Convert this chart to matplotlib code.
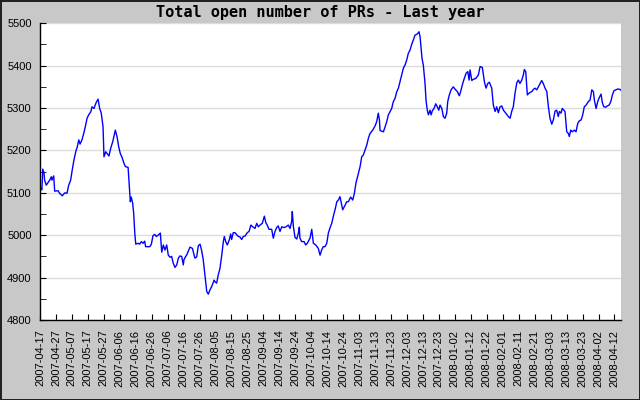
import matplotlib
matplotlib.use("Agg")
import matplotlib.pyplot as plt
from matplotlib.ticker import MultipleLocator
import numpy as np
import pandas as pd

# days after 2007-04-17 and number of open PRs
start = "2007-04-17"
days = [0.0, 1.2, 1.7, 2.5, 2.9, 3.9, 6.1, 7.1, 7.5, 8.6, 9.2, 11.3, 12.3, 14.0, 15.5,
        16.9, 18.0, 19.2, 20.2, 21.3, 22.4, 23.4, 24.3, 25.1, 26.3, 27.4, 28.4, 29.5,
        30.5, 31.8, 32.6, 33.8, 35.3, 36.4, 37.4, 38.4, 39.5, 40.1, 41.2, 42.2, 43.2,
        44.3, 45.6, 47.2, 48.3, 49.3, 50.3, 51.4, 52.5, 53.5, 55.2, 56.0, 56.6, 57.2,
        58.1, 58.7, 59.4, 60.0, 61.4, 62.5, 63.5, 64.6, 65.6, 66.2, 68.8, 69.8, 70.8,
        71.9, 72.9, 74.0, 75.4, 76.3, 77.3, 78.3, 79.4, 80.4, 81.5, 82.5, 83.5, 84.6,
        85.7, 86.7, 87.7, 88.8, 89.8, 90.2, 91.3, 91.9, 94.0, 95.5, 97.1, 98.2, 99.2,
        100.3, 101.3, 102.3, 103.0, 103.8, 104.5, 105.5, 106.5, 107.6, 109.1, 109.7,
        110.7, 111.7, 112.8, 113.9, 114.9, 115.5, 116.4, 117.4, 118.6, 119.5, 120.1,
        121.1, 122.2, 123.3, 124.3, 125.3, 126.4, 127.4, 128.5, 129.9, 131.0, 132.2,
        133.3, 134.7, 135.8, 136.8, 137.9, 139.3, 140.6, 141.5, 142.5, 143.5, 145.2,
        146.2, 147.3, 148.3, 149.3, 150.4, 151.5, 152.9, 154.2, 155.6, 156.7, 157.7,
        158.1, 158.8, 159.8, 160.9, 161.9, 162.5, 162.9, 164.0, 165.5, 166.5, 167.5,
        169.2, 170.3, 171.3, 172.8, 174.4, 175.5, 176.5, 177.5, 178.6, 179.7, 180.7,
        181.8, 182.8, 184.3, 184.9, 186.0, 187.0, 188.0, 189.1, 189.7, 191.2, 192.2,
        193.2, 194.7, 196.0, 197.0, 198.0, 199.5, 200.6, 201.6, 202.6, 203.7, 204.8,
        205.8, 206.8, 208.5, 210.0, 211.0, 212.0, 212.7, 213.1, 215.2, 216.2, 217.3,
        218.3, 219.4, 220.4, 221.4, 222.5, 223.6, 224.6, 225.6, 226.7, 227.7, 228.8,
        229.8, 230.8, 231.9, 233.0, 234.0, 235.0, 236.5, 237.5, 238.2, 238.8, 239.4,
        240.2, 241.3, 241.9, 242.7, 243.4, 244.4, 245.1, 245.9, 246.9, 248.0, 249.0,
        249.9, 250.7, 251.8, 252.8, 253.8, 254.9, 255.5, 256.5, 257.6, 259.0, 260.5,
        261.5, 262.8, 263.9, 264.9, 265.9, 267.0, 268.1, 268.9, 269.5, 270.6, 271.6,
        273.1, 274.7, 275.8, 277.2, 278.5, 279.5, 280.6, 281.6, 283.1, 284.1, 285.2,
        286.2, 287.2, 288.3, 289.4, 290.4, 291.9, 293.5, 294.6, 295.6, 296.6, 297.7,
        298.8, 299.8, 300.8, 301.9, 302.9, 303.5, 304.4, 305.4, 306.7, 308.2, 309.2,
        310.2, 311.3, 312.3, 313.4, 314.4, 315.4, 316.5, 317.6, 318.6, 319.6, 320.7,
        321.7, 322.8, 323.8, 324.8, 325.5, 326.5, 327.3, 329.0, 330.1, 331.1, 331.7,
        332.6, 333.6, 334.9, 335.9, 337.0, 338.0, 339.1, 340.1, 341.1, 342.2, 343.6,
        344.7, 345.8, 346.8, 347.4, 348.5, 349.5, 350.5, 351.6, 352.4, 353.3, 354.5,
        355.5, 356.6, 357.7, 358.7, 359.7, 361.4, 362.4, 363.5, 364.1]
open_prs = [5113, 5107, 5156, 5147, 5130, 5118, 5130, 5138, 5130, 5140, 5104, 5105, 5099,
            5093, 5100, 5099, 5118, 5130, 5154, 5178, 5197, 5209, 5225, 5215, 5225, 5240,
            5256, 5276, 5284, 5291, 5303, 5299, 5314, 5321, 5299, 5288, 5256, 5185, 5197,
            5192, 5187, 5205, 5221, 5248, 5232, 5209, 5193, 5184, 5171, 5162, 5160, 5115,
            5079, 5090, 5075, 5052, 5005, 4979, 4981, 4979, 4985, 4981, 4986, 4973, 4973,
            4979, 4999, 5002, 4997, 5000, 5005, 4960, 4977, 4965, 4977, 4953, 4948, 4950,
            4934, 4924, 4930, 4946, 4951, 4950, 4930, 4942, 4950, 4953, 4972, 4969, 4946,
            4949, 4975, 4979, 4964, 4942, 4918, 4890, 4867, 4861, 4871, 4879, 4894, 4890,
            4887, 4906, 4922, 4953, 4985, 4997, 4985, 4977, 4989, 5003, 4990, 5006, 5006,
            5001, 4997, 4996, 4990, 4997, 4998, 5006, 5009, 5024, 5020, 5016, 5028, 5020,
            5024, 5028, 5045, 5030, 5023, 5014, 5014, 4993, 5009, 5018, 5022, 5009, 5020,
            5018, 5020, 5024, 5016, 5032, 5056, 5020, 4995, 4991, 5005, 5019, 4993, 4985,
            4985, 4977, 4981, 4993, 5014, 4981, 4977, 4969, 4953, 4965, 4973, 4973, 4981,
            5005, 5018, 5028, 5052, 5060, 5079, 5083, 5091, 5071, 5060, 5071, 5079, 5079,
            5090, 5083, 5099, 5123, 5146, 5162, 5185, 5189, 5201, 5213, 5229, 5240, 5248,
            5258, 5268, 5288, 5272, 5247, 5244, 5255, 5268, 5284, 5292, 5299, 5315, 5323,
            5339, 5347, 5362, 5378, 5394, 5402, 5413, 5429, 5437, 5451, 5461, 5472, 5475,
            5480, 5468, 5441, 5417, 5402, 5358, 5319, 5295, 5284, 5295, 5284, 5294, 5299,
            5310, 5303, 5295, 5307, 5299, 5280, 5276, 5288, 5315, 5331, 5343, 5350, 5343,
            5339, 5329, 5343, 5358, 5370, 5382, 5386, 5366, 5390, 5365, 5368, 5370, 5378,
            5398, 5396, 5362, 5347, 5358, 5361, 5347, 5307, 5292, 5303, 5289, 5303, 5305,
            5295, 5288, 5280, 5276, 5292, 5303, 5335, 5360, 5366, 5358, 5366, 5378, 5391,
            5386, 5331, 5336, 5339, 5344, 5347, 5343, 5350, 5358, 5365, 5358, 5347, 5339,
            5303, 5276, 5262, 5272, 5293, 5295, 5280, 5292, 5288, 5299, 5292, 5244, 5240,
            5233, 5248, 5244, 5248, 5244, 5264, 5270, 5272, 5284, 5303, 5307, 5315, 5319,
            5343, 5339, 5319, 5299, 5315, 5325, 5333, 5313, 5303, 5302, 5305, 5307, 5315,
            5331, 5341, 5344, 5345, 5344, 5342]

# labels as printed on the chart (one every 10 days)
tick_labels = ["2007-04-17", "2007-04-27", "2007-05-07", "2007-05-17", "2007-05-27",
               "2007-06-06", "2007-06-16", "2007-06-26", "2007-07-06", "2007-07-16",
               "2007-07-26", "2007-08-05", "2007-08-15", "2007-08-25", "2007-09-04",
               "2007-09-14", "2007-09-24", "2007-10-04", "2007-10-14", "2007-10-24",
               "2007-11-03", "2007-11-13", "2007-11-23", "2007-12-03", "2007-12-13",
               "2007-12-23", "2008-01-02", "2008-01-12", "2008-01-22", "2008-02-01",
               "2008-02-11", "2008-02-21", "2008-03-03", "2008-03-13", "2008-03-23",
               "2008-04-02", "2008-04-12"]

t0 = pd.Timestamp(start)
x = t0 + pd.to_timedelta(days, unit="D")
tick_pos = t0 + pd.to_timedelta(np.arange(len(tick_labels)) * 10, unit="D")

fig = plt.figure(figsize=(6.4, 4), dpi=100, facecolor="#c8c8c8")
ax = fig.add_axes([40/640, 80/400, 581/640, 296.7/400])
ax.set_facecolor("white")

ax.plot(x, open_prs, color="#0000ff", lw=1)

ax.set_ylim(4800, 5500)
ax.set_xlim(t0, x[-1])
ax.yaxis.set_major_locator(MultipleLocator(100))
ax.yaxis.set_minor_locator(MultipleLocator(50))
ax.set_xticks(tick_pos)
ax.set_xticklabels(tick_labels)
ax.grid(True, axis="y", color="#dcdcdc", lw=1)
ax.set_axisbelow(True)

for s in ["top", "right"]:
    ax.spines[s].set_visible(False)
ax.spines["left"].set_linewidth(1)
ax.spines["bottom"].set_linewidth(1)

ax.tick_params(axis="both", which="both", direction="in", colors="black")
ax.tick_params(axis="y", which="major", length=4, pad=6, labelsize=8)
ax.tick_params(axis="y", which="minor", length=4)
ax.tick_params(axis="x", length=4, pad=7, labelsize=8, labelrotation=90)
for lab in ax.get_xticklabels() + ax.get_yticklabels():
    lab.set_fontfamily("Liberation Sans")

fig.text(0.5, 0.97, "Total open number of PRs - Last year", ha="center", va="center",
         fontsize=11, fontweight="bold", family="DejaVu Sans Mono")

fig.patch.set_edgecolor("#222222")
fig.patch.set_linewidth(1)
fig.savefig("out.png", dpi=100, facecolor=fig.get_facecolor(), edgecolor=fig.patch.get_edgecolor())
